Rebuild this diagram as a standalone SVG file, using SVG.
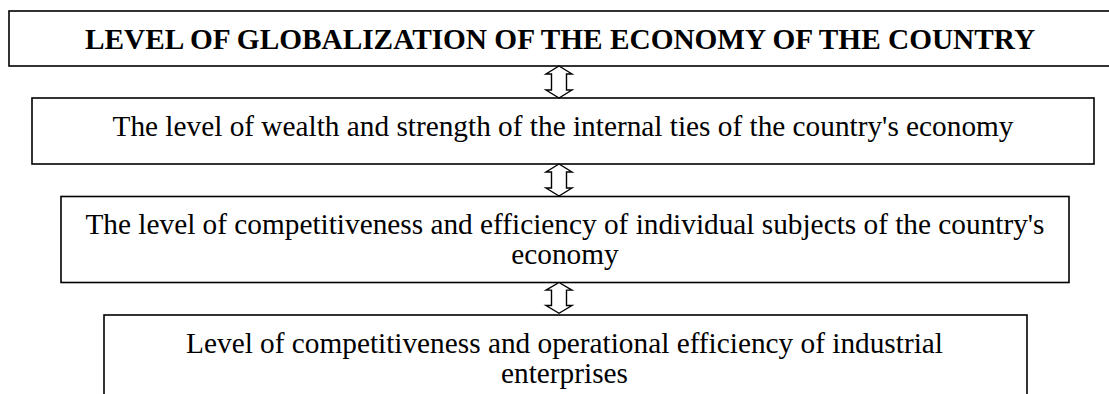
<svg xmlns="http://www.w3.org/2000/svg" width="1109" height="394" viewBox="0 0 1109 394">
  <defs>
    <style>
      .box { fill: #ffffff; stroke: #000000; stroke-width: 1.6; }
      .lbl { font-family: "Liberation Serif", "Times New Roman", serif; font-size: 29.3px; fill: #000000; text-anchor: middle; }
      .title { font-weight: bold; }
      .link { fill: #ffffff; stroke: #000000; stroke-width: 1.4; stroke-linejoin: miter; }
    </style>
    <!-- hollow up-down arrow, 32 px tall, origin at the top tip -->
    <path id="updown" d="M0,0 L13,8 L7.5,8 L7.5,24 L13,24 L0,32 L-13,24 L-7.5,24 L-7.5,8 L-13,8 Z"/>
  </defs>
  <rect width="1109" height="394" fill="#ffffff"/>

  <g id="node-globalization">
    <rect class="box" x="9" y="11" width="1103" height="55"/>
    <text class="lbl title" x="560" y="49">LEVEL OF GLOBALIZATION OF THE ECONOMY OF THE COUNTRY</text>
  </g>

  <g id="node-wealth">
    <rect class="box" x="32" y="98" width="1062" height="66"/>
    <text class="lbl" x="563" y="136">The level of wealth and strength of the internal ties of the country's economy</text>
  </g>

  <g id="node-subjects">
    <rect class="box" x="61" y="196.5" width="1008" height="86"/>
    <text class="lbl" x="565" y="234">The level of competitiveness and efficiency of individual subjects of the country's</text>
    <text class="lbl" x="565" y="264">economy</text>
  </g>

  <g id="node-enterprises">
    <rect class="box" x="104" y="315" width="923" height="90"/>
    <text class="lbl" x="564.5" y="353">Level of competitiveness and operational efficiency of industrial</text>
    <text class="lbl" x="564.5" y="383">enterprises</text>
  </g>

  <g id="connectors">
    <use href="#updown" class="link" transform="translate(559,66)"/>
    <use href="#updown" class="link" transform="translate(559,164)"/>
    <use href="#updown" class="link" transform="translate(559,282.5) scale(1,0.96)"/>
  </g>
</svg>
